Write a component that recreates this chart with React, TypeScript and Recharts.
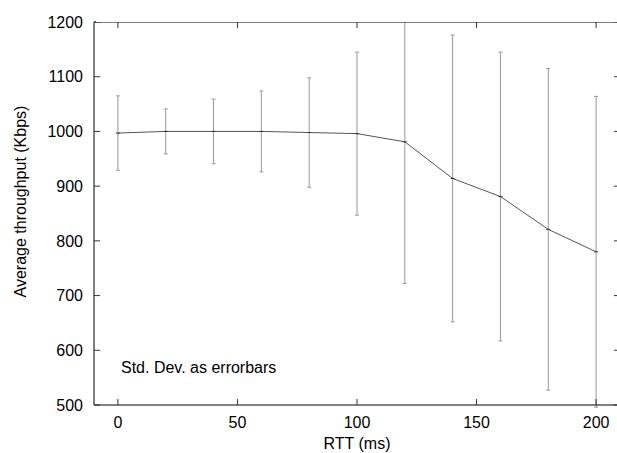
import { LineChart, Line, XAxis, YAxis, ErrorBar, Label } from "recharts";

const rtt = [0, 20, 40, 60, 80, 100, 120, 140, 160, 180, 200];
const throughput = [997, 1000, 1000, 1000, 998, 996, 981, 914, 881, 821, 780];
const stdDev = [68, 41, 59, 74, 100, 149, 259, 262, 264, 294, 284];

const xTicks = [0, 50, 100, 150, 200];
const yTicks = [500, 600, 700, 800, 900, 1000, 1100, 1200];

const data = rtt.map((r, i) => ({ rtt: r, avg: throughput[i], sd: stdDev[i] }));

const font = '"Liberation Sans", Arial, sans-serif';
const fs = 16;
const TIC = 6;
const tickColor = "#333";
const textStyle = { fontSize: fs, fontFamily: font, fill: "#000" };

// gnuplot-style tics point into the plot, so each tick draws its own mark
const BottomTick = (p: any) => (
  <g>
    <line x1={p.x} x2={p.x} y1={p.y - 12} y2={p.y - 12 - TIC} stroke={tickColor} />
    <text x={p.x} y={p.y} dy="0.71em" textAnchor="middle" style={textStyle}>{p.payload.value}</text>
  </g>
);
const LeftTick = (p: any) => (
  <g>
    <line x1={p.x + 11} x2={p.x + 11 + TIC} y1={p.y} y2={p.y} stroke={tickColor} />
    <text x={p.x} y={p.y} dy="0.355em" textAnchor="end" style={textStyle}>{p.payload.value}</text>
  </g>
);
const TopTick = (p: any) => <line x1={p.x} x2={p.x} y1={p.y} y2={p.y + TIC} stroke={tickColor} />;
const RightTick = (p: any) => <line x1={p.x - TIC} x2={p.x} y1={p.y} y2={p.y} stroke={tickColor} />;

const PointMark = (p: any) => (
  <g key={p.index}>
    <line x1={p.cx - 2} x2={p.cx + 2} y1={p.cy} y2={p.cy} stroke="#333" strokeWidth={1} />
  </g>
);

const YTitle = (p: any) => {
  const vb = p.viewBox;
  const cx = vb.x + 20;
  const cy = vb.y + vb.height / 2 - 12;
  return (
    <text x={cx} y={cy} transform={`rotate(-90 ${cx} ${cy})`} textAnchor="middle" dominantBaseline="central" style={textStyle}>
      Average throughput (Kbps)
    </text>
  );
};

export default function App() {
  return (
    <div style={{ position: "absolute", left: 0, top: 0, width: 617, height: 453, overflow: "hidden", background: "#fff" }}>
      <LineChart width={625} height={453} data={data} margin={{ top: 0, right: 0, bottom: 0, left: 0 }}>
        <XAxis xAxisId="b" dataKey="rtt" type="number" domain={[-10, 210]} ticks={xTicks} allowDataOverflow height={48} stroke="#000" tickSize={0} tickMargin={12} tick={BottomTick}>
          <Label value="RTT (ms)" position="insideBottom" offset={4} style={textStyle} />
        </XAxis>
        <XAxis xAxisId="t" orientation="top" dataKey="rtt" type="number" domain={[-10, 210]} ticks={xTicks} allowDataOverflow height={22} stroke="#000" tickSize={0} tickMargin={0} tick={TopTick} />
        <YAxis yAxisId="l" type="number" domain={[500, 1200]} ticks={yTicks} allowDataOverflow width={94} stroke="#000" tickSize={0} tickMargin={11} tick={LeftTick}>
          <Label content={YTitle} />
        </YAxis>
        <YAxis yAxisId="r" orientation="right" type="number" domain={[500, 1200]} ticks={yTicks} allowDataOverflow width={5} stroke="#000" tickSize={0} tickMargin={0} tick={RightTick} />
        <Line xAxisId="b" yAxisId="l" dataKey="avg" type="linear" stroke="#555" strokeWidth={1} dot={PointMark} activeDot={false} isAnimationActive={false}>
          <ErrorBar dataKey="sd" width={2} stroke="#999" strokeWidth={1} direction="y" isAnimationActive={false} />
        </Line>
      </LineChart>
      {/* hides error-bar overflow above the top border */}
      <div style={{ position: "absolute", left: 96, top: 0, width: 521, height: 21.5, background: "#fff" }} />
      <div style={{ position: "absolute", left: 121, top: 360, fontSize: fs, lineHeight: `${fs}px`, fontFamily: font, color: "#000", whiteSpace: "nowrap" }}>
        Std. Dev. as errorbars
      </div>
    </div>
  );
}
